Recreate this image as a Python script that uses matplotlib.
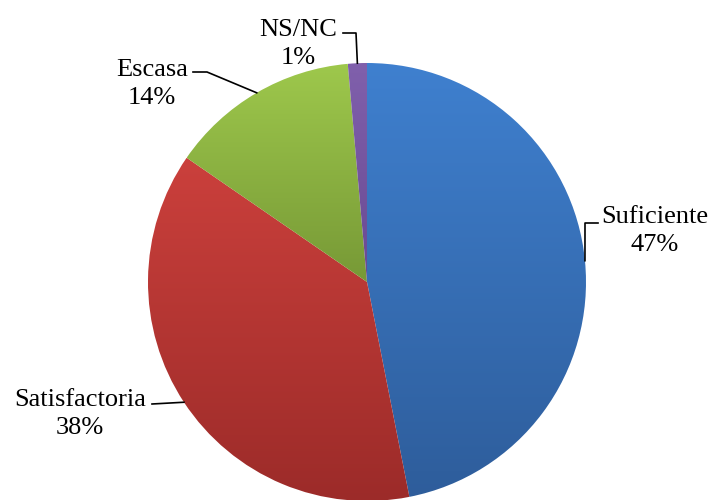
import numpy as np
import matplotlib
matplotlib.use("Agg")
import matplotlib.pyplot as plt
from matplotlib.colors import LinearSegmentedColormap

labels = ["Suficiente", "Satisfactoria", "Escasa", "NS/NC"]
values = [46.9, 37.7, 14.0, 1.4]
top_colors = ["#3F80CF", "#CB403C", "#9EC84C", "#8060AC"]
bottom_colors = ["#2E5D9B", "#9C2B29", "#779936", "#694A92"]

W, H = 712, 500
CX, CY, R = 367, H - 282, 219


def py(y):
    # pixel row (from top) -> data y
    return H - y


# label block centre, and leader elbow points (pixels from top)
label_pos = [(655, 231), (80, 414), (152, 84), (298, 44)]
elbows = [
    [(585, 223), (598, 223)],
    [(152, 404)],
    [(207, 72), (193, 72)],
    [(356, 33), (343, 33)],
]

fig = plt.figure(figsize=(7.12, 5.0), dpi=100)
ax = fig.add_axes([0, 0, 1, 1])

wedges, _ = ax.pie(values, startangle=90, counterclock=False,
                   center=(CX, CY), radius=R, frame=True,
                   wedgeprops=dict(linewidth=0))
ax.set_xlim(0, W)
ax.set_ylim(0, H)
ax.set_aspect("equal")
ax.axis("off")

grad = np.linspace(0, 1, 256).reshape(-1, 1)
inv = ax.transData.inverted()
for w, c0, c1 in zip(wedges, top_colors, bottom_colors):
    w.set_facecolor("none")
    ext = w.get_path().get_extents(w.get_transform())
    (x0, y0), (x1, y1) = inv.transform([(ext.x0, ext.y0), (ext.x1, ext.y1)])
    cmap = LinearSegmentedColormap.from_list("g", [c0, c1])
    im = ax.imshow(grad, cmap=cmap, extent=(x0, x1, y0, y1), origin="upper",
                   aspect="auto", zorder=1)
    im.set_clip_path(w)

total = sum(values)
for w, lab, v, (tx, ty), elb in zip(wedges, labels, values, label_pos, elbows):
    mid = np.deg2rad((w.theta1 + w.theta2) / 2)
    pts = [(CX + R * np.cos(mid), CY + R * np.sin(mid))]
    pts += [(x, py(y)) for x, y in elb]
    xs, ys = zip(*pts)
    ax.plot(xs, ys, color="black", lw=1.2, zorder=3)
    ax.text(tx, py(ty), f"{lab}\n{round(v / total * 100)}%",
            ha="center", va="center", multialignment="center",
            linespacing=1.35, fontsize=19, family="Liberation Serif",
            color="black")

fig.savefig("out.png", dpi=100)
